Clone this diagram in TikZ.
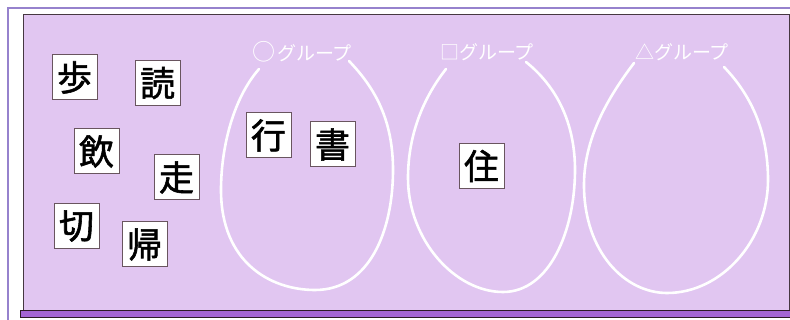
\documentclass[tikz,border=0pt]{standalone}
\usepackage{fontspec}
\newfontfamily\jp{Noto Sans CJK JP}
\newfontfamily\jpk[FakeBold=1.6]{Noto Sans CJK JP}
\definecolor{bg}{RGB}{225,198,241}
\definecolor{bar}{RGB}{164,100,212}
\definecolor{barline}{RGB}{45,25,40}
\definecolor{frameline}{RGB}{150,130,205}
\definecolor{innerline}{RGB}{70,55,65}
\definecolor{boxline}{RGB}{105,85,95}
\begin{document}
\begin{tikzpicture}[x=1pt,y=-1pt,
  kbox/.style={draw=boxline,line width=1pt,fill=white,minimum size=45pt,inner sep=0pt,font=\jpk\fontsize{35}{35}\selectfont},
  glabel/.style={text=white,font=\jp\fontsize{19}{19}\selectfont,inner sep=0pt},
  grouploop/.style={draw=white,line width=2.6pt,line cap=round}]
\useasboundingbox (0,0) rectangle (790,320);
% outer frame lines
\draw[frameline,line width=1.6pt] (8,320) -- (8,8) -- (790,8);
% inner panel
\filldraw[fill=bg,draw=innerline,line width=1pt] (23,15) rectangle (789.5,311);
% bottom bar
\filldraw[fill=bar,draw=barline,line width=1pt] (20.5,311) rectangle (790,318);
% group loops
\draw[grouploop] (259,69) .. controls (232,100) and (221,150) .. (221,190)
  .. controls (221,262) and (270,290) .. (315,290)
  .. controls (370,290) and (393,230) .. (393,170)
  .. controls (393,120) and (375,88) .. (349,61);
\draw[grouploop] (446,69) .. controls (420,102) and (408,140) .. (408,178)
  .. controls (408,240) and (455,292) .. (503,292)
  .. controls (550,292) and (575,230) .. (575,170)
  .. controls (575,122) and (556,86) .. (526,62);
\draw[grouploop] (634,63) .. controls (606,100) and (584,140) .. (584,185)
  .. controls (584,252) and (625,293) .. (667,293)
  .. controls (722,293) and (768,240) .. (768,180)
  .. controls (768,130) and (750,94) .. (724,67);
% group labels
\node[glabel] (gA) at (302,52) {{\fontsize{23}{23}\selectfont ○}\hspace{2pt}グループ};
\node[glabel] (gB) at (487,52) {□グループ};
\node[glabel] (gC) at (682,52) {△グループ};
% kanji cards
\node[kbox] (k1) at (74.5,77.5) {歩};
\node[kbox] (k2) at (157.5,83) {読};
\node[kbox] (k3) at (96.5,151.5) {飲};
\node[kbox] (k4) at (176.5,177.5) {走};
\node[kbox] (k5) at (76.5,226) {切};
\node[kbox] (k6) at (144.5,244.5) {帰};
\node[kbox] (k7) at (268.5,135.5) {行};
\node[kbox] (k8) at (332.5,144.5) {書};
\node[kbox] (k9) at (481.5,166) {住};
\end{tikzpicture}
\end{document}
